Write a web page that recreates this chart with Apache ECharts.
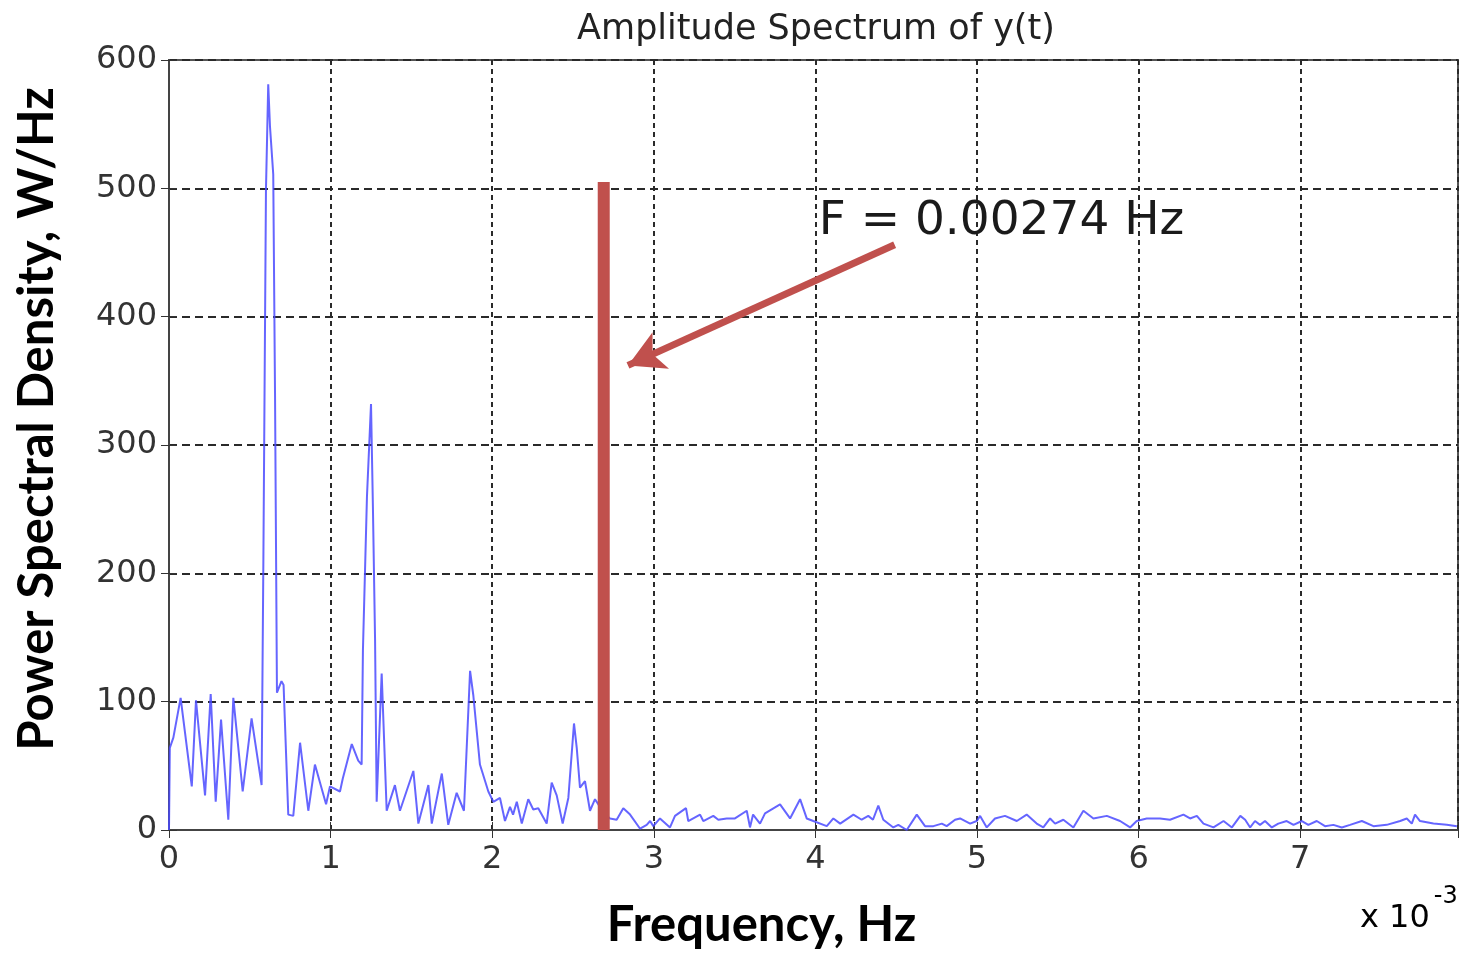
<!DOCTYPE html>
<html>
<head>
<meta charset="utf-8">
<script src="https://cdn.jsdelivr.net/npm/echarts@6/dist/echarts.min.js"></script>
<style>
html,body{margin:0;padding:0;background:#fff;}
#chart{width:1462px;height:955px;}
</style>
</head>
<body>
<div id="chart"></div>
<script>
// Frequency in units of 1e-3 Hz (axis shows "x 10^-3")
const freqE3 = [0,0.005,0.027,0.072,0.141,0.167,0.223,0.258,0.289,0.322,0.367,0.398,0.456,0.511,0.573,0.584,0.600,0.614,0.625,0.645,0.656,0.668,0.696,0.709,0.738,0.769,0.811,0.862,0.903,0.972,0.996,1.058,1.075,1.131,1.171,1.192,1.200,1.225,1.250,1.262,1.275,1.285,1.316,1.347,1.398,1.429,1.512,1.543,1.605,1.626,1.688,1.728,1.780,1.825,1.863,1.883,1.924,1.976,2.007,2.048,2.079,2.110,2.129,2.152,2.183,2.223,2.254,2.285,2.337,2.368,2.399,2.436,2.471,2.506,2.523,2.543,2.574,2.605,2.636,2.667,2.700,2.729,2.770,2.811,2.853,2.915,2.956,2.977,2.997,3.038,3.100,3.131,3.199,3.213,3.286,3.306,3.368,3.399,3.451,3.502,3.575,3.595,3.614,3.657,3.688,3.781,3.843,3.905,3.946,3.987,4.070,4.111,4.153,4.235,4.286,4.327,4.356,4.389,4.420,4.482,4.513,4.565,4.627,4.678,4.730,4.782,4.812,4.864,4.895,4.957,4.998,5.019,5.060,5.111,5.173,5.246,5.307,5.369,5.410,5.452,5.483,5.534,5.596,5.658,5.720,5.803,5.885,5.947,5.988,6.050,6.132,6.194,6.277,6.318,6.360,6.401,6.463,6.525,6.577,6.629,6.659,6.690,6.720,6.751,6.782,6.824,6.864,6.916,6.958,7.010,7.050,7.102,7.153,7.205,7.257,7.308,7.381,7.453,7.535,7.618,7.659,7.690,7.710,7.741,7.824,7.907,7.969];
const psd = [0,64,72,103,34,101,27,106,22,86,8,103,30,87,35,211,499,581,548,511,341,107,116,113,12,11,68,15,51,20,34,30,40,67,54,51,140,260,332,250,149,22,122,15,35,15,46,5,35,5,44,4,29,15,124,105,51,30,22,25,7,18,12,22,5,24,16,17,5,37,27,5,25,83,64,33,38,15,24,18,12,9,8,17,12,1,4,7,3,9,2,11,17,7,12,7,11,8,9,9,15,2,12,5,13,20,9,24,9,7,3,9,5,12,8,11,8,19,8,2,4,0,12,3,3,5,3,8,9,5,7,11,2,9,11,7,12,5,2,9,5,8,2,15,9,11,7,2,7,9,9,8,12,9,11,5,2,7,2,11,8,2,7,4,7,2,5,7,4,7,4,7,3,4,2,4,7,3,4,7,9,5,12,7,5,4,3];

const xTicks = [0,1,2,3,4,5,6,7];
const yTicks = [0,100,200,300,400,500,600];
const xMax = 7.976;

const markerFreqE3 = 2.69;   // red vertical marker (as drawn)
const markerHeight = 505;
const annotationText = 'F = 0.00274 Hz';
const annotationPos = [4.02, 474];
const arrowFrom = [4.49, 456];
const arrowTo = [2.84, 362];

const seriesData = freqE3.map((f, i) => [f, psd[i]]);

const chart = echarts.init(document.getElementById('chart'), null, {renderer: 'canvas'});

const tickFont = {fontFamily: 'DejaVu Sans', fontSize: 32, color: '#333'};

const option = {
  backgroundColor: '#fff',
  animation: false,
  title: {
    text: 'Amplitude Spectrum of y(t)',
    left: 811,
    textAlign: 'center',
    top: 7,
    textStyle: {fontFamily: 'DejaVu Sans', fontSize: 35, fontWeight: 'normal', color: '#222'}
  },
  grid: {
    left: 169, right: 4, top: 60, bottom: 123,
    show: true, borderColor: '#555', borderWidth: 2, backgroundColor: '#fff'
  },
  xAxis: [{
    type: 'value', min: 0, max: xMax, interval: 1,
    name: 'Frequency, Hz', nameLocation: 'middle', nameGap: 71,
    nameTextStyle: {fontFamily: 'Lato', fontWeight: 'bold', fontSize: 49, color: '#000', padding: [0, 104, 0, 0]},
    axisLine: {show: true, onZero: false, lineStyle: {color: '#777', width: 2}},
    axisTick: {show: true, inside: true, length: 8, lineStyle: {color: '#333'}},
    axisLabel: Object.assign({margin: 14,
      formatter: v => (xTicks.some(t => Math.abs(t - v) < 1e-9) ? String(Math.round(v)) : '')}, tickFont),
    splitLine: {show: true, lineStyle: {color: '#2a2a2a', width: 2, type: [5, 4]}}
  }, {
    type: 'value', min: 0, max: xMax, interval: 1, position: 'top',
    axisLine: {show: true, lineStyle: {color: '#444', width: 2}},
    axisTick: {show: true, inside: true, length: 8, lineStyle: {color: '#333'}},
    axisLabel: {show: false}, splitLine: {show: false}
  }],
  yAxis: [{
    type: 'value', min: 0, max: 600, interval: 100,
    name: 'Power Spectral Density, W/Hz', nameLocation: 'middle', nameGap: 107, nameRotate: 90,
    nameTextStyle: {fontFamily: 'Lato', fontWeight: 'bold', fontSize: 49, color: '#000', padding: [0, 0, 0, 52]},
    axisLine: {show: true, lineStyle: {color: '#555', width: 2}},
    axisTick: {show: true, inside: true, length: 8, lineStyle: {color: '#333'}},
    axisLabel: Object.assign({margin: 12, padding: [7, 0, 0, 0],
      formatter: v => (yTicks.indexOf(v) >= 0 ? String(v) : '')}, tickFont),
    splitLine: {show: true, lineStyle: {color: '#2a2a2a', width: 2, type: [8, 5]}}
  }, {
    type: 'value', min: 0, max: 600, interval: 100, position: 'right',
    axisLine: {show: true, lineStyle: {color: '#444', width: 2}},
    axisTick: {show: true, inside: true, length: 8, lineStyle: {color: '#333'}},
    axisLabel: {show: false}, splitLine: {show: false}
  }],
  graphic: [{
    type: 'text', left: 1360, top: 885,
    style: {
      text: '{b|x 10}{s|-3}',
      rich: {
        b: {fontFamily: 'DejaVu Sans', fontSize: 32, color: '#222', padding: [22, 0, 0, 0]},
        s: {fontFamily: 'DejaVu Sans', fontSize: 24, color: '#222', padding: [0, 0, 22, 4]}
      }
    }
  }],
  series: [{
    type: 'line',
    data: seriesData,
    showSymbol: false,
    symbol: 'none',
    lineStyle: {color: '#4a4aff', width: 2, opacity: 0.85},
    z: 3
  }, {
    type: 'line',
    data: [[markerFreqE3, 0], [markerFreqE3, markerHeight]],
    showSymbol: false,
    symbol: 'none',
    lineStyle: {color: '#c0504d', width: 12, cap: 'butt'},
    z: 4,
    markLine: {
      silent: true,
      symbol: ['none', 'arrow'],
      symbolSize: [30, 36],
      lineStyle: {color: '#c0504d', width: 7, type: 'solid'},
      label: {show: false},
      data: [[{coord: arrowFrom}, {coord: arrowTo}]]
    },
    markPoint: {
      silent: true,
      symbol: 'circle', symbolSize: 0,
      data: [{coord: annotationPos}],
      label: {
        show: true, position: 'right', distance: 0,
        formatter: annotationText,
        fontFamily: 'DejaVu Sans', fontSize: 47, color: '#1a1a1a'
      }
    }
  }]
};

chart.setOption(option);
</script>
</body>
</html>
